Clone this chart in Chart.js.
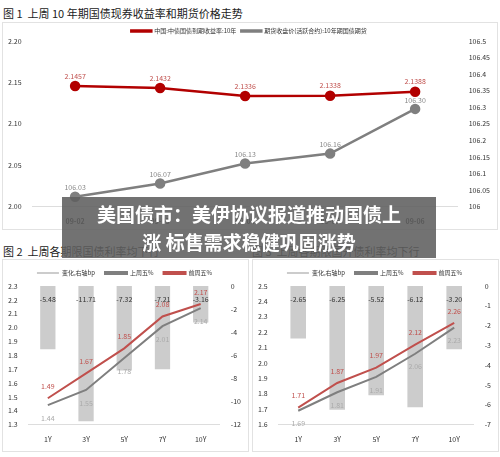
<!DOCTYPE html>
<html><head><meta charset="utf-8">
<script src="https://cdn.jsdelivr.net/npm/chart.js@4"></script>
<style>
body{margin:0;width:500px;height:457px;background:#fff;position:relative;overflow:hidden;font-family:"Noto Sans CJK SC",sans-serif}
.t{position:absolute;font-size:11px;color:#222;white-space:nowrap}
.box{position:absolute;border:1px solid #e2e2e2;background:#fff}
.banner{position:absolute;left:62px;top:197px;width:374px;height:61px;background:rgba(95,95,95,0.88);color:#fff;font-weight:bold;font-size:19px;line-height:28px;text-align:center;padding-top:3px;box-sizing:border-box}
</style></head><body>
<div class="t" style="left:3px;top:5px">图 1&nbsp; 上周 10 年期国债现券收益率和期货价格走势</div>
<div class="box" style="left:2px;top:22px;width:494px;height:206px"><canvas id="c1"></canvas></div>
<div class="t" style="left:3px;top:243px">图 2&nbsp; 上周各期限国债利率均下行</div>
<div class="box" style="left:2px;top:259px;width:245px;height:191px"><canvas id="c2"></canvas></div>
<div class="t" style="left:252px;top:243px">图 3&nbsp; 上周各期限国开债利率均下行</div>
<div class="box" style="left:252px;top:259px;width:245px;height:191px"><canvas id="c3"></canvas></div>
<div class="banner">美国债市：美伊协议报道推动国债上<br>涨 标售需求稳健巩固涨势</div>
<script>
const dates = ['09-02', '09-03', '09-04', '09-05', '09-06'];
const yield10y = [2.1457, 2.1432, 2.1336, 2.1338, 2.1388];
const futures10y = [106.03, 106.07, 106.13, 106.16, 106.295];
const futuresLabels = ['106.03', '106.07', '106.13', '106.16', '106.30'];

const tenors = ['1Y', '3Y', '5Y', '7Y', '10Y'];
const govChange = [-5.48, -11.71, -7.32, -7.21, -3.16];
const govLast = [1.44, 1.55, 1.78, 2.01, 2.14];
const govPrev = [1.49, 1.67, 1.85, 2.08, 2.17];
const cdbChange = [-2.65, -6.25, -5.52, -6.12, -3.20];
const cdbLast = [1.69, 1.81, 1.91, 2.06, 2.23];
const cdbPrev = [1.71, 1.87, 1.97, 2.12, 2.26];

Chart.defaults.font.family = '"Noto Sans CJK SC", sans-serif';
Chart.defaults.font.size = 7;
Chart.defaults.color = '#333';
Chart.defaults.animation = false;

const labels = {
    id: 'labels',
    afterDatasetsDraw(chart) {
        const ctx = chart.ctx;
        ctx.save();
        ctx.font = '7px "Noto Sans CJK SC", sans-serif';
        ctx.textAlign = 'center';
        chart.data.datasets.forEach((ds, i) => {
            if (!ds.lbl) return;
            chart.getDatasetMeta(i).data.forEach((el, j) => {
                ctx.fillStyle = ds.lblColor;
                let y = el.y + ds.lblDy;
                if (ds.type === 'bar') y = Math.min(el.y, el.base) + ds.lblDy;
                ctx.fillText(ds.lbl(j), el.x + (ds.lblDx || 0), y);
            });
        });
        ctx.restore();
    }
};

const shortLegend = {
    beforeInit(chart) {
        const originalFit = chart.legend.fit;
        chart.legend.fit = function fit() {
            originalFit.bind(chart.legend)();
            this.height = 18;
        }
    }
};

new Chart(document.getElementById('c1'), {
    type: 'line',
    data: {
        labels: dates,
        datasets: [
            {label: '中国:中债国债到期收益率:10年', data: yield10y, borderColor: '#b20000', backgroundColor: '#b20000',
             borderWidth: 2.5, pointRadius: 4, yAxisID: 'y', lbl: j => yield10y[j].toFixed(4), lblColor: '#c0504d', lblDy: -10},
            {label: '期货收盘价(活跃合约):10年期国债期货', data: futures10y, borderColor: '#7f7f7f', backgroundColor: '#7f7f7f',
             borderWidth: 2.5, pointRadius: 4, yAxisID: 'y1', lbl: j => futuresLabels[j], lblColor: '#888', lblDy: -9}
        ]
    },
    options: {
        maintainAspectRatio: false,
        layout: {padding: {left: 2, right: 4, top: 0, bottom: 0}},
        plugins: {legend: {labels: {boxWidth: 20, boxHeight: 1, padding: 5, font: {size: 6}}}},
        scales: {
            x: {offset: true, grid: {display: false}, border: {color: '#ddd'}, ticks: {font: {size: 7, weight: 'bold'}}},
            y: {min: 2.0, max: 2.2, ticks: {stepSize: 0.05, callback: v => v.toFixed(2)}, grid: {display: false}, border: {display: false}},
            y1: {position: 'right', min: 106, max: 106.5, ticks: {stepSize: 0.05, callback: v => +v.toFixed(2)}, grid: {display: false}, border: {display: false}}
        }
    },
    plugins: [labels, shortLegend]
});

function rateChart(id, change, last, prev, ymin, ymax, ystep, rmin, rstep) {
    new Chart(document.getElementById(id), {
        data: {
            labels: tenors,
            datasets: [
                {type: 'line', label: '上周五%', data: last, borderColor: '#7f7f7f', backgroundColor: '#7f7f7f', borderWidth: 2, pointRadius: 0,
                 yAxisID: 'y', order: 1, lbl: j => last[j].toFixed(2), lblColor: '#aaa', lblDy: 13},
                {type: 'line', label: '前周五%', data: prev, borderColor: '#c0504d', backgroundColor: '#c0504d', borderWidth: 2, pointRadius: 0,
                 yAxisID: 'y', order: 0, lbl: j => prev[j].toFixed(2), lblColor: '#c0504d', lblDy: -12},
                {type: 'bar', label: '变化,右轴bp', data: change, backgroundColor: '#cccccc', barPercentage: 0.4, categoryPercentage: 1,
                 yAxisID: 'y1', order: 2, lbl: j => change[j].toFixed(2), lblColor: '#333', lblDy: 13}
            ]
        },
        options: {
            maintainAspectRatio: false,
            layout: {padding: {left: 2, right: 4, top: 0, bottom: 4}},
            plugins: {legend: {reverse: true, labels: {boxWidth: 22, boxHeight: 2, padding: 10, font: {size: 6}}}},
            scales: {
                x: {grid: {display: false}, border: {color: '#ddd'}, ticks: {font: {size: 7}}},
                y: {min: ymin, max: ymax, ticks: {stepSize: ystep, callback: v => v.toFixed(1)}, grid: {display: false}, border: {display: false}},
                y1: {position: 'right', min: rmin, max: 0, ticks: {stepSize: rstep}, grid: {display: false}, border: {display: false}}
            }
        },
        plugins: [labels]
    });
}
rateChart('c2', govChange, govLast, govPrev, 1.3, 2.3, 0.1, -12, 2);
rateChart('c3', cdbChange, cdbLast, cdbPrev, 1.6, 2.5, 0.1, -7, 1);
</script>
</body></html>
